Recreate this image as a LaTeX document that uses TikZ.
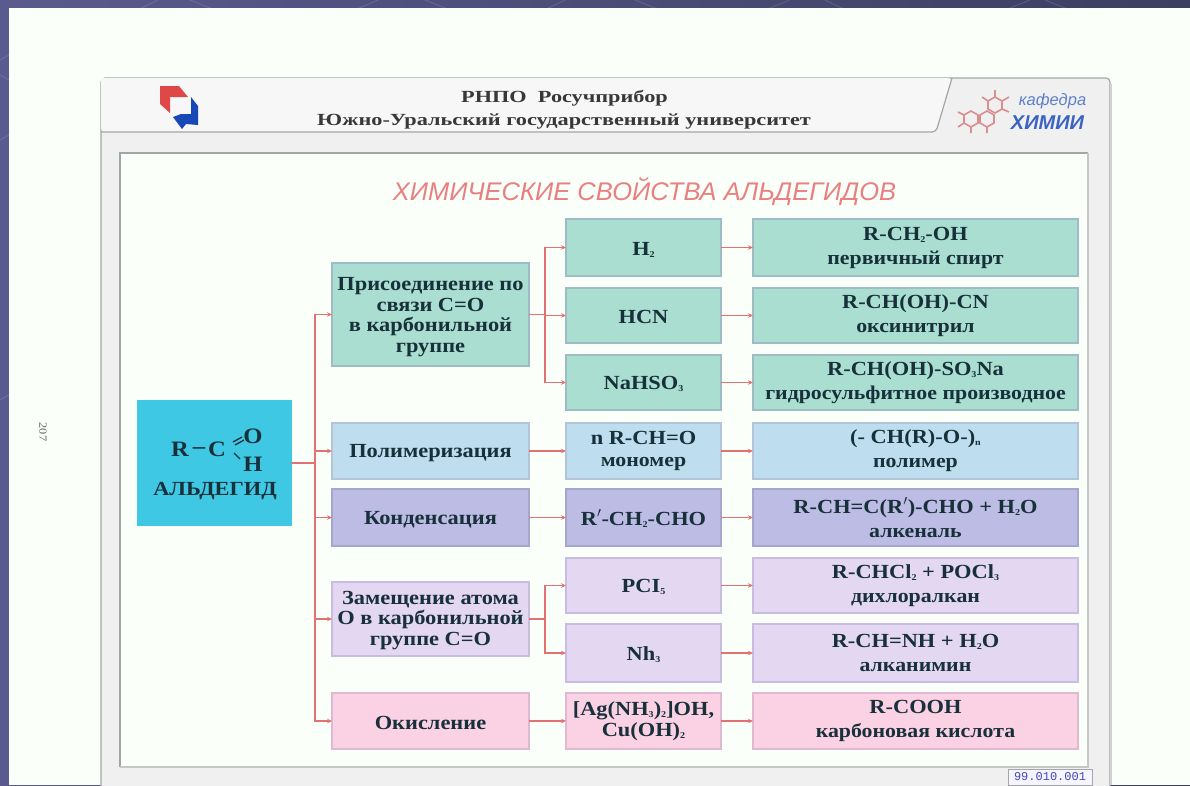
\documentclass[tikz,border=0pt]{standalone}
\usepackage{fontspec}
\setmainfont{Liberation Serif}[FakeStretch=1.12]
\newfontfamily\hdrfont{Liberation Serif}[FakeStretch=1.31]
\setsansfont{Liberation Sans}
\setmonofont{Liberation Mono}
\usetikzlibrary{arrows.meta}
\definecolor{slideA}{HTML}{5A5A8E}
\definecolor{slideB}{HTML}{3E3E62}
\definecolor{txt}{HTML}{17303A}
\definecolor{link}{HTML}{E27272}
\definecolor{teal}{HTML}{A9DED1}
\definecolor{sky}{HTML}{BEDDEE}
\definecolor{viol}{HTML}{BDBCE4}
\definecolor{lil}{HTML}{E4D7F2}
\definecolor{pinkb}{HTML}{FBD1E4}
\definecolor{cyanb}{HTML}{3EC8E4}
\definecolor{frameg}{HTML}{A4A6A6}
\definecolor{molc}{HTML}{D98F8F}
\definecolor{edgeT}{HTML}{9FBCC6}
\definecolor{edgeS}{HTML}{B4C4D8}
\definecolor{edgeV}{HTML}{A5A5CE}
\definecolor{edgeL}{HTML}{C8BCE0}
\definecolor{edgeP}{HTML}{DFB8D2}
\definecolor{logoR}{HTML}{E04848}
\definecolor{logoB}{HTML}{1848B8}
\tikzset{
  x=1pt,y=-1pt,
  pxbox/.style={draw=#1,line width=1.3pt,inner sep=0pt,outer sep=0pt,align=center,text=txt,
     font=\fontsize{20}{20.7}\selectfont\bfseries,execute at begin node={\rule{0pt}{17pt}}},
  boxtext/.style={inner sep=0pt,align=center,text=txt,font=\fontsize{20}{20.7}\selectfont\bfseries},
  colA/.style={minimum width=197pt},
  colB/.style={minimum width=155pt},
  colC/.style={minimum width=325pt},
  tealbox/.style={pxbox=edgeT,fill=teal},
  skybox/.style={pxbox=edgeS,fill=sky},
  violbox/.style={pxbox=edgeV,fill=viol},
  lilbox/.style={pxbox=edgeL,fill=lil},
  pinkbox/.style={pxbox=edgeP,fill=pinkb},
  linkline/.style={draw=link,line width=1.6pt,-{Stealth[length=5pt,width=4.5pt]}},
  atom/.style={text=txt,inner sep=0pt,font=\fontsize{22}{24}\selectfont\bfseries},
  frameline/.style={draw=frameg,line width=1.2pt},
  molec/.style={draw=molc,line width=1.6pt},
  bgline/.style={draw=white,opacity=.13,line width=1pt},
}
\newcommand{\lo}[1]{\fontsize{19.5}{24}\selectfont #1}
\newcommand{\sbs}[1]{\raisebox{-2pt}{\fontsize{9}{9}\selectfont #1}}
\begin{document}
\begin{tikzpicture}
\useasboundingbox (0,0) rectangle (1190,785);
% slide
\fill[left color=slideA,right color=slideB] (0,0) rectangle (1190,785);
\foreach \a/\b in {133/158,350/378,540/565,760/790,1000/1030}{
  \draw[bgline] (\a,12) -- (\b,0);}
\foreach \a/\b in {190/220,425/455,635/665,825/850,1045/1075}{
  \draw[bgline] (\a,0) -- (\b,12);}
\draw[bgline] (0,60) -- (9,55);
\draw[bgline] (0,75) -- (9,80);
\draw[bgline] (0,140) -- (9,135);
\draw[bgline] (0,400) -- (9,395);
\fill[white!98!green] (9,8) rectangle (1190,785);
% sheet
\begin{scope}
\clip (9,8) rectangle (1190,785);
\filldraw[frameline,fill=black!6,rounded corners=4pt] (101,78) rectangle (1110,800);
\fill[black!3,rounded corners=4pt] (101,78) -- (952,78) -- (936,132) -- (101,132) [sharp corners] -- cycle;
\draw[frameline] (952,78) [rounded corners=4pt] -- (936,132) -- (101,132);
\draw[frameline,line width=2.5pt,draw=black!18] (1111,84) -- (1111,785);
\fill[white!98!green] (120,153) rectangle (1088,767);
\draw[frameline] (120,767) -- (120,153) -- (1088,153);
\draw[frameline,draw=black!22,line width=2pt] (120,767) -- (1088,767) -- (1088,153);
\end{scope}
% header
\filldraw[fill=logoR,draw=none] (160,86) -- (179,86) -- (188,97) -- (170,97) -- (170,113) -- (160,104) -- cycle;
\filldraw[fill=logoB,draw=none] (191,97) -- (198,106) -- (198,125) -- (186,124) -- (182,129) -- (173,117) -- (181,114) -- (191,114) -- cycle;
\node[text=black!78,font=\hdrfont\fontsize{17}{18}\selectfont] (hd1) at (564.5,98) {\textbf{РНПО\ \ Росучприбор}};
\node[text=black!78,font=\hdrfont\fontsize{17}{18}\selectfont] (hd2) at (564,121) {\textbf{Южно-Уральский государственный университет}};
\foreach \cx/\cy in {971/119,987/119,995/105}{
  \draw[molec] (\cx,\cy-8) -- (\cx+7,\cy-4) -- (\cx+7,\cy+4) -- (\cx,\cy+8) -- (\cx-7,\cy+4) -- (\cx-7,\cy-4) -- cycle;
}
\draw[molec] (958,112) -- (964,115) (958,127) -- (964,123) (971,127) -- (971,133) (987,127) -- (987,133) (995,97) -- (995,90) (1002,101) -- (1009,97) (982,97)--(988,101) (1002,109) -- (1009,112);
\node[text=logoB!70,font=\sffamily\itshape\fontsize{16.5}{16}\selectfont] (kaf) at (1052.5,101) {кафедра};
\node[text=logoB!85,font=\sffamily\itshape\bfseries\fontsize{20}{20}\selectfont] (him) at (1047.5,123) {ХИМИИ};
% side number
\node[rotate=-90,text=black!60,font=\fontsize{11}{11}\selectfont] (pg) at (43,432) {207};
% tag
\node[draw=black!35,fill=blue!4,text=blue!45!gray,minimum width=84pt,minimum height=16pt,inner sep=0pt,font=\ttfamily\fontsize{12}{12}\selectfont] (tag) at (1050,777) {99.010.001};
% title
\node[text=logoR!70,font=\sffamily\itshape\fontsize{25.5}{25.5}\selectfont] (title) at (644.5,192) {ХИМИЧЕСКИЕ СВОЙСТВА АЛЬДЕГИДОВ};
% root
\node[pxbox=cyanb,fill=cyanb,minimum width=153pt,minimum height=124pt] (root) at (214.5,463) {};
\node[atom] (rr) at (180,449) {R};
\node[atom] (dd) at (199,451) {–};
\node[atom] (cc) at (217,449) {C};
\node[atom] (oo) at (253,436) {O};
\node[atom] (hh) at (253,464) {H};
\node[atom,font=\fontsize{20}{20}\selectfont\bfseries] (ald) at (215,491) {АЛЬДЕГИД};
\draw[txt,line width=1.3pt] (233,442) -- (242,437) (235,445) -- (244,440) (234,453) -- (240,459);
% column 1
\node[tealbox,colA,minimum height=103pt] (a1) at (430.5,314.5) {};
\node[boxtext] (a1t) at (430.5,317) {Присоединение по\\связи С=О\\в карбонильной\\группе};
\node[skybox,colA,minimum height=56pt] (a2) at (430.5,451) {Полимеризация};
\node[violbox,colA,minimum height=57pt] (a3) at (430.5,517.5) {Конденсация};
\node[lilbox,colA,minimum height=74pt] (a4) at (430.5,619) {};
\node[boxtext] (a4t) at (430.5,620.5) {Замещение атома\\О в карбонильной\\группе С=О};
\node[pinkbox,colA,minimum height=56pt] (a5) at (430.5,721) {Окисление};
% column 2
\node[tealbox,colB,minimum height=57pt] (b1) at (643.5,247.5) {Н\sbs{2}};
\node[tealbox,colB,minimum height=55pt] (b2) at (643.5,315.5) {НСN};
\node[tealbox,colB,minimum height=55pt] (b3) at (643.5,382.5) {NaHSO\sbs{3}};
\node[skybox,colB,minimum height=56pt] (b4) at (643.5,451) {n R-CH=O\\[2pt]\lo{мономер}};
\node[violbox,colB,minimum height=57pt] (b5) at (643.5,517.5) {R$'$-CH\sbs{2}-CHO};
\node[lilbox,colB,minimum height=55pt] (b6) at (643.5,585.5) {PCI\sbs{5}};
\node[lilbox,colB,minimum height=58pt] (b7) at (643.5,653) {Nh\sbs{3}};
\node[pinkbox,colB,minimum height=56pt] (b8) at (643.5,721) {[Ag(NH\sbs{3})\sbs{2}]OH,\\Cu(OH)\sbs{2}};
% column 3
\node[tealbox,colC,minimum height=57pt] (c1) at (915.5,247.5) {R-CH\sbs{2}-OH\\[3.3pt]\lo{первичный спирт}};
\node[tealbox,colC,minimum height=55pt] (c2) at (915.5,315.5) {R-CH(OH)-CN\\[3.3pt]\lo{оксинитрил}};
\node[tealbox,colC,minimum height=55pt] (c3) at (915.5,382.5) {R-CH(OH)-SO\sbs{3}Na\\[3.3pt]\lo{гидросульфитное производное}};
\node[skybox,colC,minimum height=56pt] (c4) at (915.5,451) {(- CH(R)-O-)\sbs{n}\\[3.3pt]\lo{полимер}};
\node[violbox,colC,minimum height=57pt] (c5) at (915.5,517.5) {R-CH=C(R$'$)-CHO + H\sbs{2}O\\[3.3pt]\lo{алкеналь}};
\node[lilbox,colC,minimum height=55pt] (c6) at (915.5,585.5) {R-CHCl\sbs{2} + POCl\sbs{3}\\[3.3pt]\lo{дихлоралкан}};
\node[lilbox,colC,minimum height=58pt] (c7) at (915.5,653) {R-CH=NH + H\sbs{2}O\\[3.3pt]\lo{алканимин}};
\node[pinkbox,colC,minimum height=56pt] (c8) at (915.5,721) {R-COOH\\[3.3pt]\lo{карбоновая кислота}};
% connectors
\foreach \t in {a1,a2,a3,a4,a5}{\draw[linkline] (root.east) -- ++(24,0) |- (\t.west);}
\foreach \t in {b1,b2,b3}{\draw[linkline] (a1.east) -- ++(16,0) |- (\t.west);}
\foreach \t in {b6,b7}{\draw[linkline] (a4.east) -- ++(16,0) |- (\t.west);}
\draw[linkline] (a2) -- (b4);
\draw[linkline] (a3) -- (b5);
\draw[linkline] (a5) -- (b8);
\foreach \i in {1,...,8}{\draw[linkline] (b\i) -- (c\i);}
\end{tikzpicture}
\end{document}
